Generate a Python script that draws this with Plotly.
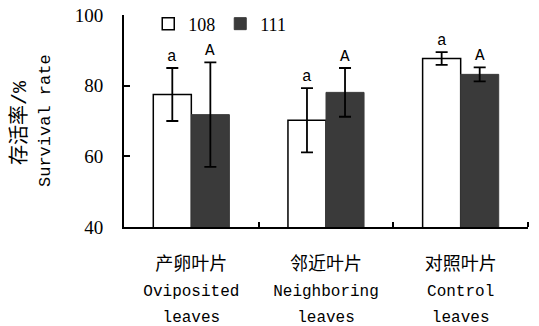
import plotly.graph_objects as go

categories_cn = ["产卵叶片", "邻近叶片", "对照叶片"]
categories_en = [["Oviposited", "leaves"], ["Neighboring", "leaves"], ["Control", "leaves"]]
series_names = ["108", "111"]
means_108 = [77.5, 70.2, 87.7]
err_108 = [7.5, 9.1, 1.8]
means_111 = [71.8, 78.1, 83.2]
err_111 = [14.8, 6.9, 2.0]
sig_108 = ["a", "a", "a"]
sig_111 = ["A", "A", "A"]
y_ticks = [40, 60, 80, 100]

MONO = "Liberation Mono, Noto Sans CJK SC, monospace"
SERIF = "Liberation Serif, Times New Roman, serif"

xs = [0, 1, 2]
bargap = 0.435
half = (1 - bargap) / 4

fig = go.Figure()
fig.add_trace(go.Bar(
    x=xs, y=means_108, name=series_names[0],
    marker=dict(color="white", line=dict(color="black", width=1.5)),
    error_y=dict(type="data", array=err_108, color="black", thickness=1.8, width=6),
))
fig.add_trace(go.Bar(
    x=xs, y=means_111, name=series_names[1],
    marker=dict(color="#3a3a3a", line=dict(color="#3a3a3a", width=1)),
    error_y=dict(type="data", array=err_111, color="black", thickness=1.8, width=6),
))

ticktext = []
for cn, en in zip(categories_cn, categories_en):
    ticktext.append(
        f"<span style='font-size:18px'>{cn}</span><br>"
        f"<span style='font-size:16px'>{en[0]}</span><br>"
        f"<span style='font-size:16px'>{en[1]}</span>"
    )

annotations = []
for i in range(3):
    annotations.append(dict(x=xs[i] - half, y=means_108[i] + err_108[i], text=sig_108[i],
                            showarrow=False, yanchor="bottom", yshift=0,
                            font=dict(family=MONO, size=16, color="black")))
    annotations.append(dict(x=xs[i] + half, y=means_111[i] + err_111[i], text=sig_111[i],
                            showarrow=False, yanchor="bottom", yshift=0,
                            font=dict(family=MONO, size=16, color="black")))

annotations.append(dict(xref="paper", yref="paper", x=0, y=0.49, xshift=-104,
                        xanchor="center", yanchor="middle",
                        text="存活率/%", textangle=-90, showarrow=False,
                        font=dict(family=MONO, size=20, color="black")))
annotations.append(dict(xref="paper", yref="paper", x=0, y=0.5, xshift=-79,
                        xanchor="center", yanchor="middle",
                        text="Survival rate", textangle=-90, showarrow=False,
                        font=dict(family=MONO, size=17, color="black")))

fig.update_layout(
    width=539, height=326,
    margin=dict(l=124, r=11, t=15, b=99, autoexpand=False),
    plot_bgcolor="white", paper_bgcolor="white",
    barmode="group", bargap=bargap, bargroupgap=0,
    showlegend=True,
    legend=dict(orientation="h", x=0.06, y=1.045, xanchor="left", yanchor="top",
                font=dict(family=SERIF, size=18, color="black"),
                bgcolor="rgba(0,0,0,0)", itemclick=False),
    annotations=annotations,
)
fig.update_xaxes(
    type="linear", range=[-0.5, 2.5], tickvals=xs, ticktext=ticktext,
    showline=True, linecolor="black", linewidth=2, showgrid=False, zeroline=False,
    ticks="", tickfont=dict(family=MONO, size=20, color="black"), ticklabelstandoff=17,
    automargin=False,
)
fig.update_xaxes(minor=dict(tickvals=[0.5, 1.5, 2.5], ticks="inside", ticklen=5,
                            tickwidth=2, tickcolor="black"))
fig.update_yaxes(
    range=[40, 100], tickvals=y_ticks, ticks="inside", ticklen=6, tickwidth=1.5,
    tickcolor="black", showline=True, linecolor="black", linewidth=2,
    showgrid=False, zeroline=False, automargin=False,
    tickfont=dict(family=SERIF, size=19, color="black"), ticklabelstandoff=15,
)

fig.write_html("out.html", config={"displayModeBar": False},
               post_script="document.body.style.margin='0';document.body.style.overflow='hidden';")
